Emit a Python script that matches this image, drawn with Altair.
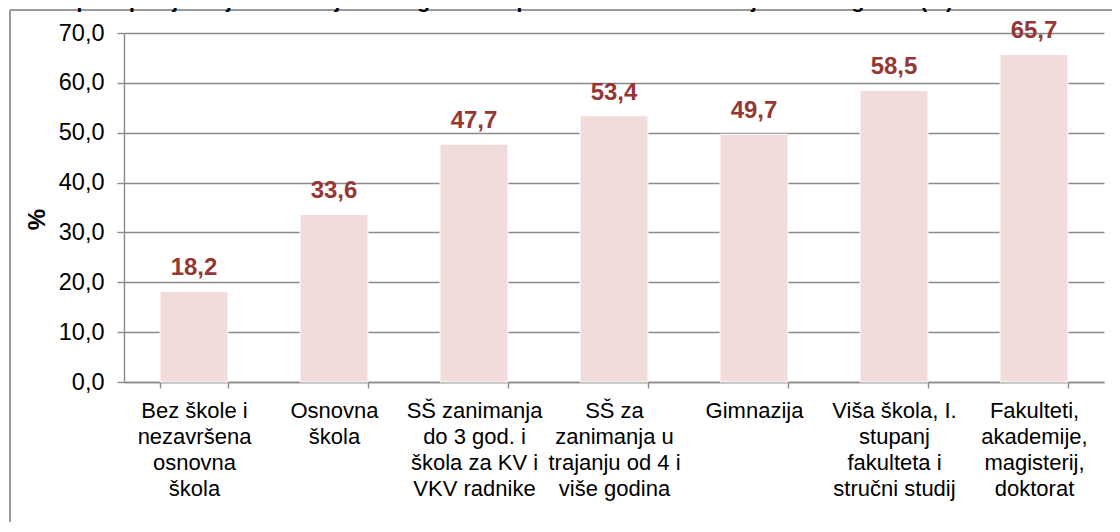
import altair as alt
import pandas as pd

TITLE = "G 7: Stopa zapošljavanja na temelju radnog odnosa prema razini obrazovanja u 2014. godini (%)"

categories = [
    "Bez škole i|nezavršena|osnovna|škola",
    "Osnovna|škola",
    "SŠ zanimanja|do 3 god. i|škola za KV i|VKV radnike",
    "SŠ za|zanimanja u|trajanju od 4 i|više godina",
    "Gimnazija",
    "Viša škola, I.|stupanj|fakulteta i|stručni studij",
    "Fakulteti,|akademije,|magisterij,|doktorat",
]
values = [18.2, 33.6, 47.7, 53.4, 49.7, 58.5, 65.7]
y_ticks = [0, 10, 20, 30, 40, 50, 60, 70]

df = pd.DataFrame({"kategorija": categories, "vrijednost": values})

FONT = "Liberation Sans"
GRAY = "#8a8a8a"

x = alt.X(
    "kategorija:N",
    sort=categories,
    scale=alt.Scale(paddingInner=0.514, paddingOuter=0.257),
    axis=alt.Axis(
        title=None,
        labelAngle=0,
        labelExpr="split(datum.label, '|')",
        labelLineHeight=26,
        labelFontSize=22,
        labelBaseline="top",
        labelColor="black",
        labelOverlap=False,
        labelLimit=200,
        labelPadding=12,
        tickBand="extent",
        tickSize=6,
        tickColor=GRAY,
        tickWidth=1.4,
        domainColor=GRAY,
        domainWidth=1.4,
        grid=False,
    ),
)

y = alt.Y(
    "vrijednost:Q",
    scale=alt.Scale(domain=[0, 70], nice=False),
    axis=alt.Axis(
        values=y_ticks,
        labelExpr="replace(format(datum.value, '.1f'), '.', ',')",
        labelFontSize=23.5,
        labelColor="black",
        labelPadding=13,
        tickSize=7,
        tickColor=GRAY,
        tickWidth=1.4,
        domainColor=GRAY,
        domainWidth=1.4,
        grid=True,
        gridColor=GRAY,
        gridWidth=1.4,
        title="%",
        titleFontSize=24,
        titleFontWeight="bold",
        titleColor="black",
        titleAngle=270,
        titleAlign="center",
        titleBaseline="middle",
        titleX=-87,
        titleY=186,
    ),
)

base = alt.Chart(df)

bars = base.mark_bar(color="#F2DCDB", stroke="white", strokeWidth=1).encode(x=x, y=y)

labels = base.transform_calculate(
    lbl="replace(format(datum.vrijednost, '.1f'), '.', ',')"
).mark_text(
    dy=-16, baseline="alphabetic", fontSize=24, fontWeight="bold", color="#953735"
).encode(x=x, y=y, text="lbl:N")

frame_data = alt.Data(values=[{"a": 1}])
frame_left = alt.Chart(frame_data).mark_rule(color="#9a9a9a", strokeWidth=2).encode(
    x=alt.value(-114), y=alt.value(-23), y2=alt.value(700)
)
frame_top = alt.Chart(frame_data).mark_rule(color="#9a9a9a", strokeWidth=2).encode(
    x=alt.value(-114), x2=alt.value(1300), y=alt.value(-23)
)

title_text = alt.Chart(alt.Data(values=[{"t": TITLE}])).mark_text(
    align="left", baseline="alphabetic", fontSize=21, fontWeight="bold", color="black"
).encode(x=alt.value(-128), y=alt.value(-25), text="t:N")

chart = alt.layer(frame_left, frame_top, title_text, bars, labels).properties(
    width=980,
    height=349,
    autosize=alt.AutoSizeParams(type="none"),
    padding={"left": 116, "top": 25, "right": 8, "bottom": 140},
).configure(font=FONT).configure_view(stroke=None)

chart.save("out.html", embed_options={"renderer": "svg", "actions": False})
